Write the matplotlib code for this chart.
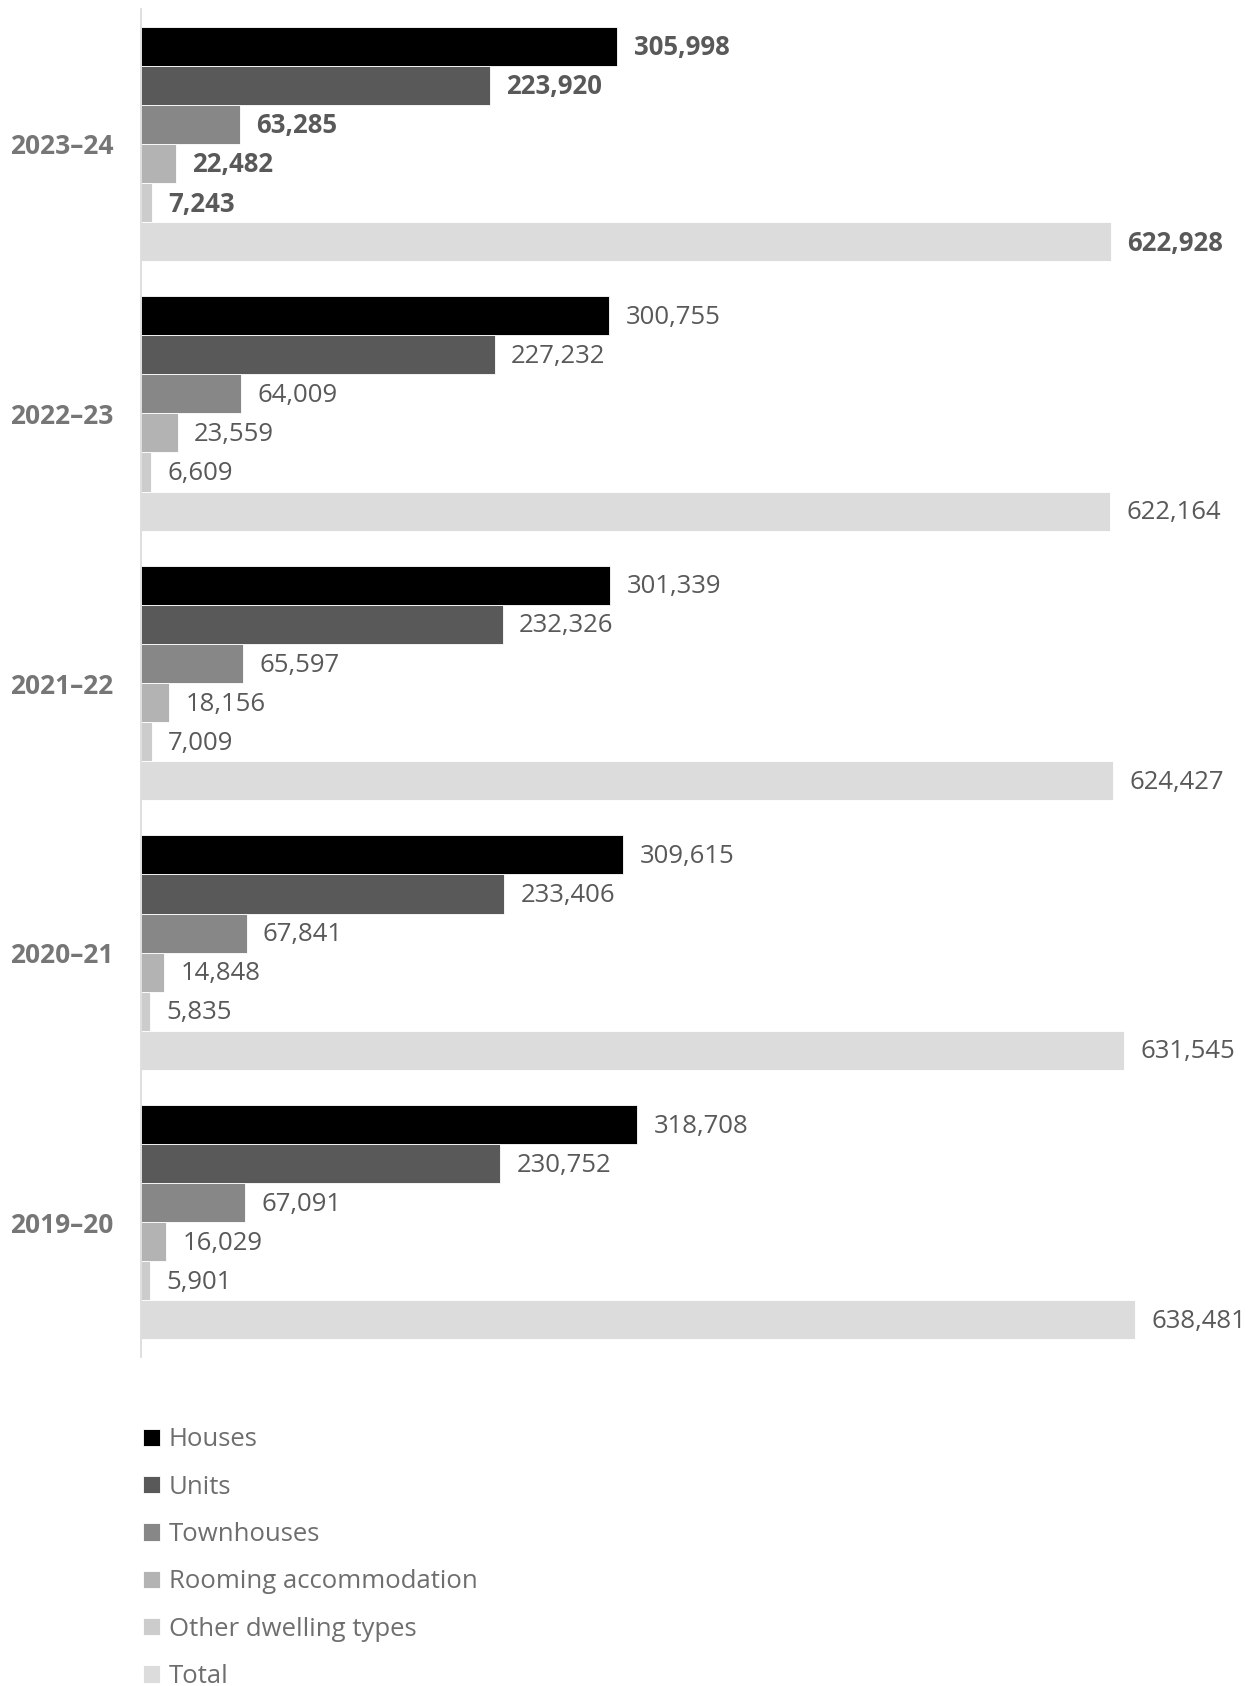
import matplotlib.pyplot as plt
import numpy as np

plt.rcParams['font.family'] = ['Open Sans', 'DejaVu Sans']

years = ['2023–24', '2022–23', '2021–22', '2020–21', '2019–20']
series = ['Houses', 'Units', 'Townhouses', 'Rooming accommodation',
          'Other dwelling types', 'Total']
houses = [305998, 300755, 301339, 309615, 318708]
units = [223920, 227232, 232326, 233406, 230752]
townhouses = [63285, 64009, 65597, 67841, 67091]
rooming = [22482, 23559, 18156, 14848, 16029]
other = [7243, 6609, 7009, 5835, 5901]
total = [622928, 622164, 624427, 631545, 638481]

values = [houses, units, townhouses, rooming, other, total]
colors = ['#000000', '#595959', '#878787', '#b3b3b3', '#cccccc', '#dcdcdc']

fig = plt.figure(figsize=(12.6, 16.86), dpi=100)
ax = fig.add_axes([141 / 1260, 1 - 1357 / 1686, 1090 / 1260, 1348 / 1686])

h = 0.145
y = np.arange(len(years))
handles = []
for j, (vals, col, name) in enumerate(zip(values, colors, series)):
    pos = y + (j - 2.5) * h
    b = ax.barh(pos, vals, height=h, color=col, edgecolor='white',
                linewidth=0.6, label=name)
    handles.append(b)
    for i, (p, v) in enumerate(zip(pos, vals)):
        ax.text(v + 10500, p + 0.006, f'{v:,}', va='center', ha='left',
                fontsize=18.5, color='#595959',
                fontweight='bold' if i == 0 else 'normal', clip_on=False)

ax.set_xlim(0, 700000)
ax.set_ylim(len(years) - 0.5, -0.5)
ax.set_yticks(y)
ax.set_yticklabels(years, fontsize=19, fontweight='bold', color='#767676')
ax.tick_params(axis='y', length=0, pad=20)
ax.set_xticks([])
for s in ['top', 'right', 'bottom']:
    ax.spines[s].set_visible(False)
ax.spines['left'].set_color('#d9d9d9')
ax.spines['left'].set_linewidth(1.2)

leg = fig.legend(handles=handles, labels=series, loc='upper left',
                 bbox_to_anchor=(133 / 1260, 1 - 1417 / 1686), frameon=False,
                 fontsize=18.5, labelspacing=0.87, handlelength=0.65,
                 handleheight=0.65, handletextpad=0.35, borderaxespad=0)
for t in leg.get_texts():
    t.set_color('#6e6e6e')

fig.savefig('out.png', dpi=100)
